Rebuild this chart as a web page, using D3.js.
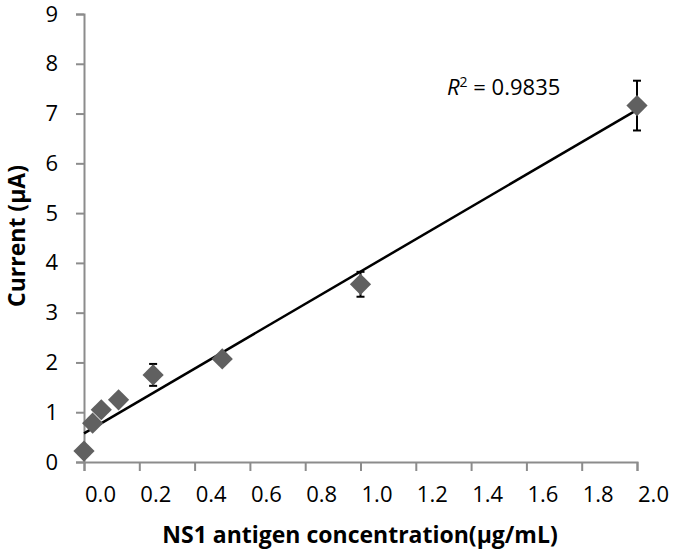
<!DOCTYPE html>
<html>
<head>
<meta charset="utf-8">
<script src="https://cdn.jsdelivr.net/npm/d3@7"></script>
<style>
  body { margin: 0; background: #fff; }
  svg { display: block; font-family: "Open Sans", sans-serif; }
</style>
</head>
<body>
<svg id="chart" width="674" height="557" viewBox="0 0 674 557"></svg>
<script>
// NS1 antigen concentration (µg/mL) vs current (µA)
const concentration = [0, 0.03125, 0.0625, 0.125, 0.25, 0.5, 1, 2];
const current = [0.22, 0.78, 1.05, 1.25, 1.75, 2.07, 3.57, 7.16];
const errBar = [0.05, 0.05, 0.05, 0.05, 0.22, 0.05, 0.25, 0.5];

// linear trendline
const trendSlope = 3.25;
const trendIntercept = 0.575;
const rSquared = "0.9835";

const xTicks = [0, 0.2, 0.4, 0.6, 0.8, 1.0, 1.2, 1.4, 1.6, 1.8, 2.0];
const yTicks = [0, 1, 2, 3, 4, 5, 6, 7, 8, 9];

const svg = d3.select("#chart");
const axisColor = "#8c8c8c";

const x = d3.scaleLinear().domain([0, 2]).range([84, 637]);
const y = d3.scaleLinear().domain([0, 9]).range([462, 14]);

// y axis
const yAxis = svg.append("g")
    .attr("transform", `translate(${x(0)},0)`)
    .call(d3.axisLeft(y).tickValues(yTicks).tickSize(8).tickPadding(18).tickFormat(d3.format("d")));
yAxis.select(".domain").attr("stroke", axisColor).attr("stroke-width", 2);
yAxis.selectAll(".tick line").attr("stroke", axisColor).attr("stroke-width", 2);
yAxis.selectAll(".tick text")
    .attr("fill", "#000")
    .style("font-size", "22px")
    .style("font-family", "'Open Sans', sans-serif");

// x axis
const xAxis = svg.append("g")
    .attr("transform", `translate(0,${y(0)})`)
    .call(d3.axisBottom(x).tickValues(xTicks).tickSize(9).tickPadding(15).tickFormat(d3.format(".1f")));
xAxis.select(".domain").attr("stroke", axisColor).attr("stroke-width", 2);
xAxis.selectAll(".tick line").attr("stroke", axisColor).attr("stroke-width", 2);
xAxis.selectAll(".tick text")
    .attr("fill", "#000")
    .attr("dx", 16)
    .style("font-size", "22px")
    .style("font-family", "'Open Sans', sans-serif");

// trendline
svg.append("line")
    .attr("x1", x(0)).attr("y1", y(trendIntercept))
    .attr("x2", x(2)).attr("y2", y(trendIntercept + trendSlope * 2))
    .attr("stroke", "#000")
    .attr("stroke-width", 2.5);

const pts = concentration.map((c, i) => ({ c, v: current[i], e: errBar[i] }));

// error bars
const eb = svg.append("g").selectAll("g")
    .data(pts)
    .enter().append("g")
    .attr("stroke", "#000")
    .attr("stroke-width", 2);
eb.append("line")
    .attr("x1", d => x(d.c)).attr("x2", d => x(d.c))
    .attr("y1", d => y(d.v - d.e)).attr("y2", d => y(d.v + d.e));
eb.append("line")
    .attr("x1", d => x(d.c) - 4).attr("x2", d => x(d.c) + 4)
    .attr("y1", d => y(d.v + d.e)).attr("y2", d => y(d.v + d.e));
eb.append("line")
    .attr("x1", d => x(d.c) - 4).attr("x2", d => x(d.c) + 4)
    .attr("y1", d => y(d.v - d.e)).attr("y2", d => y(d.v - d.e));

// diamond markers
const diamond = d3.symbol().type(d3.symbolSquare).size(225);
svg.append("g").selectAll("path")
    .data(pts)
    .enter().append("path")
    .attr("d", diamond)
    .attr("transform", d => `translate(${x(d.c)},${y(d.v)}) rotate(45)`)
    .attr("fill", "#606060");

// R squared label
const rText = svg.append("text")
    .attr("x", 447)
    .attr("y", 95)
    .style("font-size", "22px")
    .attr("fill", "#000");
rText.append("tspan").style("font-style", "italic").text("R");
rText.append("tspan").attr("dy", -8).style("font-size", "14px").text("2");
rText.append("tspan").attr("dy", 8).text(" = " + rSquared);

// axis titles
svg.append("text")
    .attr("x", 360)
    .attr("y", 543)
    .attr("text-anchor", "middle")
    .style("font-size", "23px")
    .style("font-weight", "bold")
    .text("NS1 antigen concentration(µg/mL)");

svg.append("text")
    .attr("transform", "translate(25,236) rotate(-90)")
    .attr("text-anchor", "middle")
    .style("font-size", "23px")
    .style("font-weight", "bold")
    .text("Current (µA)");
</script>
</body>
</html>
